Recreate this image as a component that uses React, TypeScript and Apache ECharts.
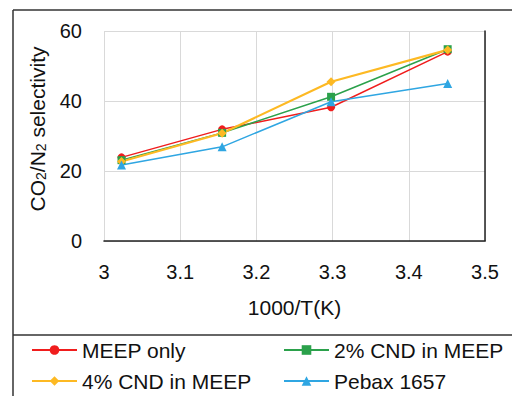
import React, { useEffect, useRef } from "react";
import * as echarts from "echarts";

const xValues = [3.023, 3.155, 3.298, 3.451];
const meepOnly = [23.9, 31.9, 38.2, 54.1];
const cnd2 = [23.1, 30.9, 41.2, 54.8];
const cnd4 = [22.7, 30.8, 45.5, 54.6];
const pebax = [21.7, 26.9, 39.8, 45.0];
const seriesNames = ["MEEP only", "2% CND in MEEP", "4% CND in MEEP", "Pebax 1657"];
const seriesValues = [meepOnly, cnd2, cnd4, pebax];
const seriesColors = ["#f01d1d", "#2ba14b", "#fdb923", "#2fa6e2"];
const seriesSymbols = ["circle", "rect", "diamond", "triangle"];
const seriesSizes = [8, 8, 9, 9];
const seriesWidths = [1.5, 1.5, 2.2, 1.5];

const FONT = "'Liberation Sans', Arial, sans-serif";

const legendPos = [
  { left: 31, top: 339 },
  { left: 283, top: 339 },
  { left: 31, top: 370 },
  { left: 283, top: 370 },
];

export default function App() {
  const ref = useRef<HTMLDivElement>(null);
  useEffect(() => {
    document.body.style.margin = "0";
    if (!ref.current) return;
    const chart = echarts.init(ref.current, null, { renderer: "svg" });
    const series = seriesNames.map((name, i) => ({
      name,
      type: "line",
      data: xValues.map((x, j) => [x, seriesValues[i][j]]),
      symbol: seriesSymbols[i],
      symbolSize: seriesSizes[i],
      itemStyle: { color: seriesColors[i] },
      lineStyle: { color: seriesColors[i], width: seriesWidths[i] },
      xAxisIndex: 0,
      yAxisIndex: 0,
    }));
    chart.setOption({
      animation: false,
      backgroundColor: "#ffffff",
      textStyle: { fontFamily: FONT },
      grid: { left: 104, right: 27, top: 31, bottom: 155, containLabel: false },
      xAxis: [
        {
          type: "value",
          min: 3,
          max: 3.5,
          interval: 0.1,
          axisLine: { show: true, lineStyle: { color: "#d0d0d0", width: 1 } },
          axisTick: { show: false },
          axisLabel: { color: "#111", fontSize: 20, fontFamily: FONT, margin: 21 },
          splitLine: { show: true, lineStyle: { color: "#d9d9d9", width: 1 } },
          name: "1000/T(K)",
          nameLocation: "middle",
          nameGap: 56,
          nameTextStyle: { color: "#111", fontSize: 21, fontFamily: FONT },
        },
        {
          type: "value",
          position: "top",
          min: 3,
          max: 3.5,
          interval: 0.1,
          axisLine: { show: true, lineStyle: { color: "#222", width: 1.5 } },
          axisTick: { show: false },
          axisLabel: { show: false },
          splitLine: { show: false },
        },
      ],
      yAxis: [
        {
          type: "value",
          min: 0,
          max: 60,
          interval: 20,
          axisLine: { show: false },
          axisTick: { show: false },
          axisLabel: { color: "#111", fontSize: 20, fontFamily: FONT, margin: 22 },
          splitLine: { show: true, lineStyle: { color: "#d9d9d9", width: 1 } },
        },
        {
          type: "value",
          position: "right",
          min: 0,
          max: 60,
          interval: 20,
          axisLine: { show: true, lineStyle: { color: "#222", width: 1.5 } },
          axisTick: { show: false },
          axisLabel: { show: false },
          splitLine: { show: false },
        },
      ],
      legend: seriesNames.map((name, i) => ({
        data: [name],
        left: legendPos[i].left,
        top: legendPos[i].top,
        padding: 0,
        itemWidth: 45,
        itemHeight: 12,
        textStyle: { color: "#111", fontSize: 21, fontFamily: FONT, lineHeight: 22 },
      })),
      graphic: [
        {
          type: "line",
          shape: { x1: 13, y1: 10, x2: 520, y2: 10 },
          style: { stroke: "#333", lineWidth: 1.5 },
        },
        {
          type: "line",
          shape: { x1: 13, y1: 10, x2: 13, y2: 400 },
          style: { stroke: "#333", lineWidth: 1.5 },
        },
        {
          type: "line",
          shape: { x1: 13, y1: 335, x2: 520, y2: 335 },
          style: { stroke: "#333", lineWidth: 1.5 },
        },
        {
          type: "text",
          x: 37,
          y: 129,
          rotation: Math.PI / 2,
          style: {
            text: "CO{sub|2}/N{sub|2} selectivity",
            fill: "#111",
            fontSize: 21,
            fontFamily: FONT,
            align: "center",
            verticalAlign: "middle",
            rich: {
              sub: { fontSize: 14, fontFamily: FONT, fill: "#111", verticalAlign: "bottom", lineHeight: 13 },
            },
          },
        },
      ],
      series,
    });
    return () => chart.dispose();
  }, []);
  return <div ref={ref} style={{ width: 512, height: 396 }} />;
}
